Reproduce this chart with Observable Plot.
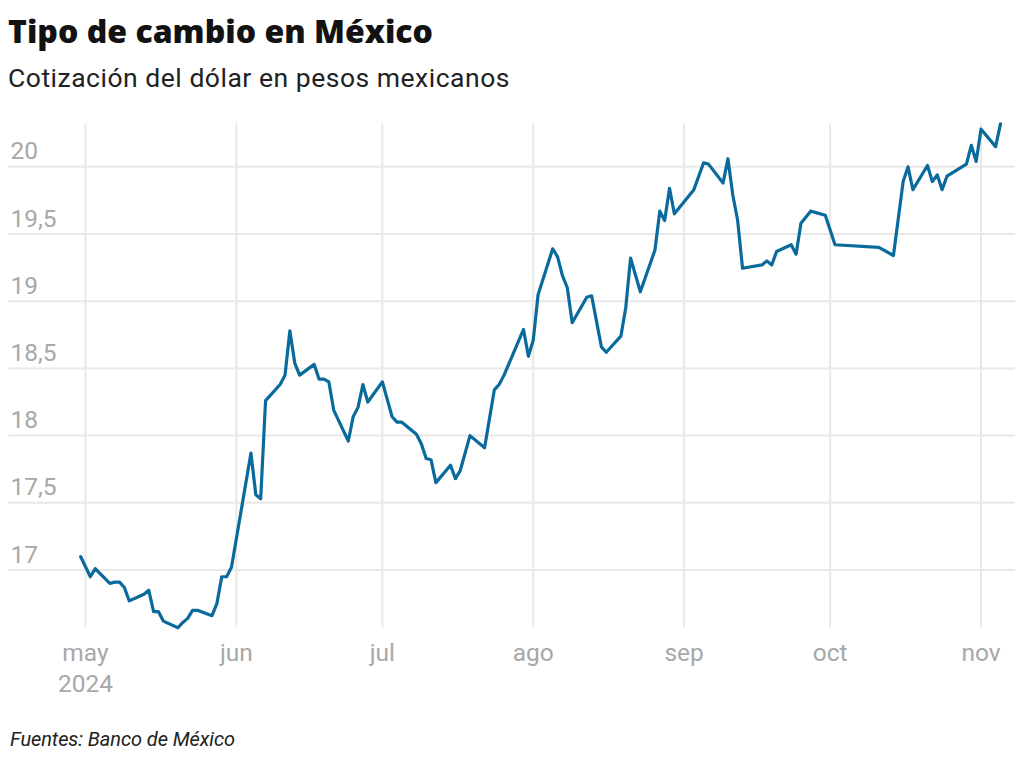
<!DOCTYPE html>
<html>
<head>
<meta charset="utf-8">
<script src="https://cdn.jsdelivr.net/npm/d3@7"></script>
<script src="https://cdn.jsdelivr.net/npm/@observablehq/plot@0.6"></script>
<style>
  html, body { margin: 0; padding: 0; background: #fff; }
  body { width: 1024px; height: 769px; position: relative; overflow: hidden; font-family: Roboto, sans-serif; }
  .t { position: absolute; white-space: nowrap; line-height: 1; margin: 0; }
  #title { left: 8px; top: 15px; font-family: "Open Sans", sans-serif; font-weight: 800; font-size: 32px; color: #121212; }
  #subtitle { left: 8px; top: 65.2px; font-family: Roboto, sans-serif; font-size: 26.5px; color: #222; }
  #caption { left: 10px; top: 729.2px; font-family: Roboto, sans-serif; font-style: italic; font-size: 20px; color: #222; }
  #chart { position: absolute; left: 0; top: 100px; }
</style>
</head>
<body>
<div id="title" class="t"><span>Tipo de cambio en México</span></div>
<div id="subtitle" class="t"><span>Cotización del dólar en pesos mexicanos</span></div>
<div id="chart"></div>
<div id="caption" class="t"><span>Fuentes: Banco de México</span></div>
<script>
const dates = [
  "2024-04-30","2024-05-02","2024-05-03","2024-05-06","2024-05-07","2024-05-08","2024-05-09","2024-05-10",
  "2024-05-13","2024-05-14","2024-05-15","2024-05-16","2024-05-17","2024-05-20","2024-05-21","2024-05-22",
  "2024-05-23","2024-05-24","2024-05-27","2024-05-28","2024-05-29","2024-05-30","2024-05-31",
  "2024-06-04","2024-06-05","2024-06-06","2024-06-07","2024-06-10","2024-06-11","2024-06-12","2024-06-13",
  "2024-06-14","2024-06-17","2024-06-18","2024-06-19","2024-06-20","2024-06-21","2024-06-24","2024-06-25",
  "2024-06-26","2024-06-27","2024-06-28",
  "2024-07-01","2024-07-03","2024-07-04","2024-07-05","2024-07-08","2024-07-09","2024-07-10","2024-07-11",
  "2024-07-12","2024-07-15","2024-07-16","2024-07-17","2024-07-19","2024-07-22","2024-07-24","2024-07-25",
  "2024-07-26","2024-07-30","2024-07-31",
  "2024-08-01","2024-08-02","2024-08-05","2024-08-06","2024-08-07","2024-08-08","2024-08-09","2024-08-12",
  "2024-08-13","2024-08-15","2024-08-16","2024-08-19","2024-08-20","2024-08-21","2024-08-23","2024-08-26",
  "2024-08-27","2024-08-28","2024-08-29","2024-08-30",
  "2024-09-03","2024-09-05","2024-09-06","2024-09-09","2024-09-10","2024-09-11","2024-09-12","2024-09-13",
  "2024-09-17","2024-09-18","2024-09-19","2024-09-20","2024-09-23","2024-09-24","2024-09-25","2024-09-27",
  "2024-09-30",
  "2024-10-02","2024-10-11","2024-10-14","2024-10-16","2024-10-17","2024-10-18","2024-10-21","2024-10-22",
  "2024-10-23","2024-10-24","2024-10-25","2024-10-29","2024-10-30","2024-10-31",
  "2024-11-01","2024-11-04","2024-11-05"
];
const values = [
  17.10,16.95,17.01,16.90,16.91,16.91,16.87,16.77,
  16.82,16.85,16.69,16.69,16.62,16.57,16.61,16.64,
  16.70,16.70,16.66,16.75,16.95,16.95,17.02,
  17.87,17.56,17.53,18.26,18.38,18.45,18.78,18.54,
  18.45,18.53,18.42,18.42,18.40,18.19,17.96,18.14,
  18.21,18.38,18.25,
  18.40,18.14,18.10,18.10,18.01,17.94,17.83,17.82,
  17.65,17.78,17.68,17.74,18.00,17.91,18.34,18.38,
  18.45,18.79,18.59,
  18.71,19.05,19.39,19.33,19.19,19.10,18.84,19.03,
  19.04,18.66,18.62,18.74,18.95,19.32,19.07,19.38,
  19.67,19.60,19.84,19.65,
  19.83,20.03,20.02,19.88,20.06,19.79,19.60,19.245,
  19.27,19.30,19.27,19.37,19.42,19.35,19.58,19.67,
  19.64,
  19.42,19.40,19.34,19.89,20.00,19.83,20.01,19.89,
  19.94,19.83,19.93,20.02,20.16,20.04,
  20.28,20.15,20.32
];
const yTicks = [17, 17.5, 18, 18.5, 19, 19.5, 20];
const monthTicks = ["2024-05-01","2024-06-01","2024-07-01","2024-08-01","2024-09-01","2024-10-01","2024-11-01"];
const monthLabels = ["may","jun","jul","ago","sep","oct","nov"];
const yearLabel = "2024";

const data = dates.map((d, i) => ({date: new Date(d), value: values[i]}));
const monthDates = monthTicks.map(d => new Date(d));

const gridColor = "#e8e8e8";
const labelColor = "#a8a8a8";

const chart = Plot.plot({
  width: 1024,
  height: 610,
  marginTop: 23.3,
  marginBottom: 82.7,
  marginLeft: 8.5,
  marginRight: 9,
  style: {fontFamily: "Roboto, sans-serif", background: "#fff", overflow: "visible"},
  x: {type: "utc", range: [80.1, 1000], axis: null},
  y: {axis: null},
  marks: [
    Plot.gridX(monthDates, {stroke: gridColor, strokeOpacity: 1, strokeWidth: 2}),
    Plot.gridY(yTicks, {stroke: gridColor, strokeOpacity: 1, strokeWidth: 2}),
    Plot.text(yTicks, {
      y: d => d, text: d => String(d).replace(".", ","),
      frameAnchor: "left", textAnchor: "start", lineAnchor: "bottom",
      dx: 1.5, dy: -7.4, fill: labelColor, fontSize: 24.5
    }),
    Plot.text(monthDates, {
      x: d => d, text: (d, i) => monthLabels[i],
      frameAnchor: "bottom", lineAnchor: "bottom", textAnchor: "middle",
      dy: 32.7, fill: labelColor, fontSize: 24.5
    }),
    Plot.text([monthDates[0]], {
      x: d => d, text: () => yearLabel,
      frameAnchor: "bottom", lineAnchor: "bottom", textAnchor: "middle",
      dy: 64.4, fill: labelColor, fontSize: 24.5
    }),
    Plot.lineY(data, {x: "date", y: "value", stroke: "#0a6a9c", strokeWidth: 3.2})
  ]
});
document.getElementById("chart").appendChild(chart);

function fit(id, target) {
  const span = document.querySelector("#" + id + " span");
  const w = span.getBoundingClientRect().width;
  const n = span.textContent.length;
  span.style.letterSpacing = ((target - w) / n) + "px";
}
fit("title", 425);
fit("subtitle", 502);
fit("caption", 225);
</script>
</body>
</html>
